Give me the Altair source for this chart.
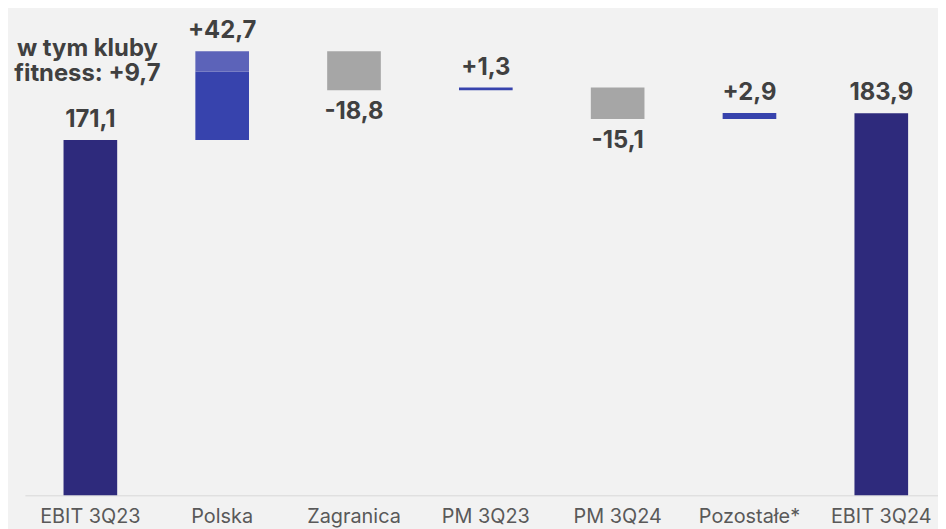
import altair as alt
import pandas as pd

categories = ["EBIT 3Q23", "Polska", "Zagranica", "PM 3Q23", "PM 3Q24", "Pozostałe*", "EBIT 3Q24"]
values = [171.1, 42.7, -18.8, 1.3, -15.1, 2.9, 183.9]
kinds = ["total", "delta", "delta", "delta", "delta", "delta", "total"]
fitness_part = 9.7
annotation_text = "w tym kluby\nfitness: +9,7"

NAVY = "#2e2a7c"
BLUE = "#3743ad"
LIGHT = "#5c63b9"
GREY = "#a6a6a6"
TEXT = "#404040"
FONT = "Inter"


def fmt(v, kind):
    s = f"{abs(v):.1f}".replace(".", ",")
    if kind == "total":
        return s
    return ("+" if v > 0 else "-") + s


bars = []
labels = []
run = 0.0
polska_top = 0.0
for c, v, k in zip(categories, values, kinds):
    if k == "total":
        start, end = 0.0, v
        color = NAVY
    else:
        start, end = run, run + v
        color = BLUE if v > 0 else GREY
    run = end
    if c == "Polska":
        bars.append(dict(cat=c, y0=start, y1=end - fitness_part, color=color))
        bars.append(dict(cat=c, y0=end - fitness_part, y1=end, color=LIGHT))
        polska_top = end
    else:
        bars.append(dict(cat=c, y0=start, y1=end, color=color))
    labels.append(dict(cat=c, y=end, text=fmt(v, k), side="up" if v >= 0 else "down"))

bars_df = pd.DataFrame(bars)
labels_df = pd.DataFrame(labels)
ann_df = pd.DataFrame([dict(cat=categories[0], y=polska_top, text=annotation_text)])

x_scale = alt.Scale(paddingInner=0.593, paddingOuter=0.26, align=0.564, round=False)
x_enc = alt.X(
    "cat:N",
    sort=categories,
    scale=x_scale,
    axis=alt.Axis(
        title=None,
        labelAngle=0,
        ticks=False,
        domainColor="#d9d9d9",
        domainWidth=1,
        labelFont=FONT,
        labelFontSize=20,
        labelColor="#595959",
        labelPadding=11,
        grid=False,
    ),
)
y_scale = alt.Scale(domain=[0, 233.7], nice=False, zero=True)

bar_layer = alt.Chart(bars_df).mark_bar().encode(
    x=x_enc,
    y=alt.Y("y0:Q", scale=y_scale, axis=None),
    y2="y1:Q",
    color=alt.Color("color:N", scale=None),
)

up_labels = alt.Chart(labels_df).transform_filter(alt.datum.side == "up").mark_text(
    font=FONT, fontSize=24, fontWeight="bold", color=TEXT, baseline="alphabetic", dy=-13
).encode(
    x=alt.X("cat:N", sort=categories, scale=x_scale),
    y=alt.Y("y:Q", scale=y_scale, axis=None),
    text="text:N",
)

down_labels = alt.Chart(labels_df).transform_filter(alt.datum.side == "down").mark_text(
    font=FONT, fontSize=24, fontWeight="bold", color=TEXT, baseline="alphabetic", dy=29
).encode(
    x=alt.X("cat:N", sort=categories, scale=x_scale),
    y=alt.Y("y:Q", scale=y_scale, axis=None),
    text="text:N",
)

ann_layer = alt.Chart(ann_df).mark_text(
    font=FONT, fontSize=24, fontWeight="bold", color=TEXT, baseline="alphabetic",
    lineBreak="\n", lineHeight=25, dx=-3, dy=5,
).encode(
    x=alt.X("cat:N", sort=categories, scale=x_scale),
    y=alt.Y("y:Q", scale=y_scale, axis=None),
    text="text:N",
)

chart = (
    alt.layer(bar_layer, up_labels, down_labels, ann_layer)
    .properties(
        width=920,
        height=489,
        autosize=alt.AutoSizeParams(type="none"),
        padding={"left": 17, "top": 0, "right": 0, "bottom": 32},
        background="#f2f2f2",
    )
    .configure_view(stroke=None)
)

chart.save("out.html", embed_options={"renderer": "svg", "actions": False})
